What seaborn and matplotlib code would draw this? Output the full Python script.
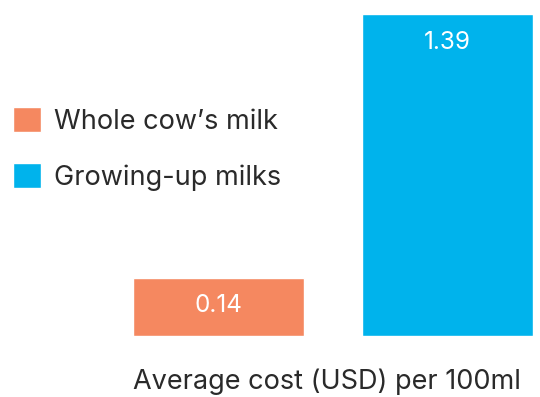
import matplotlib
matplotlib.use("Agg")
import matplotlib.pyplot as plt
import seaborn as sns
import numpy as np
import pandas as pd

# Average cost per 100ml (USD)
categories = ["Whole cow\u2019s milk", "Growing-up milks"]
values = [0.14, 1.39]
labels = ["0.14", "1.39"]
colors = ["#F58860", "#00B3EC"]
xlabel = "Average cost (USD) per 100ml"

# a small floor keeps the cheap bar readable next to the tall one
floor = 0.133

sns.set_theme(style="white")
plt.rcParams["font.family"] = ["Inter", "DejaVu Sans"]

W, H = 540, 397
fig = plt.figure(figsize=(W / 100, H / 100), dpi=100)
ax = fig.add_axes([133 / W, 61.5 / H, 400 / W, 321.5 / H])

df = pd.DataFrame({"cat": categories, "val": np.array(values) + floor})
sns.barplot(data=df, x="cat", y="val", hue="cat", palette=colors,
            width=0.75, saturation=1, legend=True, ax=ax)

ax.set_xlim(-0.375, 1.375)
ax.set_ylim(0, max(values) + floor)
ax.set_xticks([])
ax.set_yticks([])
ax.set_xlabel("")
ax.set_ylabel("")
sns.despine(ax=ax, left=True, bottom=True)

for i, (v, lab) in enumerate(zip(values, labels)):
    ax.annotate(lab, xy=(i, v + floor), xytext=(0, -20.2), textcoords="offset points",
                ha="center", va="center", color="white", fontsize=17.5)

fs = 19.5
handles, leg_labels = ax.get_legend_handles_labels()
ax.legend(handles, leg_labels, loc="center left",
          bbox_to_anchor=(13 / W, 1 - 149 / H), bbox_transform=fig.transFigure,
          frameon=False, fontsize=fs, handlelength=1.04, handleheight=1.04,
          handletextpad=0.48, labelspacing=1.07, borderpad=0, borderaxespad=0)
for t in ax.get_legend().get_texts():
    t.set_color("#2a2a2a")

fig.text(133 / W, 1 - 382 / H, xlabel, ha="left", va="center",
         fontsize=fs, color="#2a2a2a")

fig.savefig("out.png", dpi=100)
